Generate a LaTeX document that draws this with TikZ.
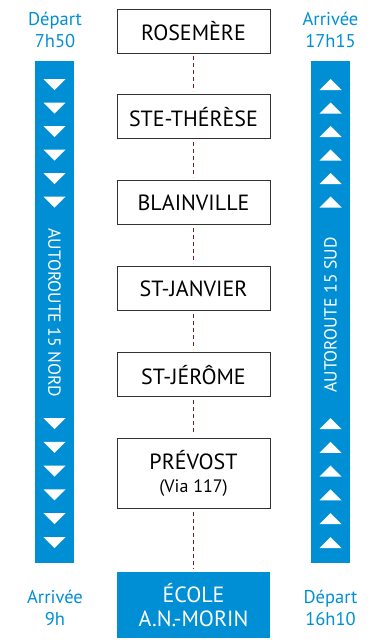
\documentclass[tikz,border=0pt]{standalone}
\usepackage{fontspec}
\setmainfont{PT Sans}
\usetikzlibrary{positioning}
\definecolor{autoblue}{RGB}{0,143,213}
\definecolor{dashred}{RGB}{125,28,32}

\begin{document}
\begin{tikzpicture}[x=1pt, y=1pt, node distance=41pt,
    station/.style={draw=black!80, line width=0.9pt, minimum width=153pt, minimum height=44pt,
      inner sep=0pt, align=center, font=\fontsize{22}{23}\selectfont},
    ecole/.style={fill=autoblue, text=white, minimum width=153pt, minimum height=66pt,
      inner sep=0pt, align=center, font=\fontsize{22}{24}\selectfont},
    timelabel/.style={text=autoblue, align=center, font=\fontsize{18.5}{22.7}\selectfont},
    roadlabel/.style={text=white, font=\fontsize{17.5}{17.5}\selectfont},
    route/.style={dashred, line width=0.9pt, dash pattern=on 4pt off 3pt, shorten >=3pt, shorten <=3pt}]
  \useasboundingbox (0,0) rectangle (382,-640);

  \node [station] (rosemere) at (193.5,-31) {ROSEMÈRE};
  \node [station, below=of rosemere] (therese) {STE-THÉRÈSE};
  \node [station, below=of therese] (blainville) {BLAINVILLE};
  \node [station, below=of blainville] (janvier) {ST-JANVIER};
  \node [station, below=of janvier] (jerome) {ST-JÉRÔME};
  \node [station, minimum height=70pt, below=of jerome] (prevost) {PRÉVOST\\{\fontsize{18}{18}\selectfont (Via 117)}};
  \node [ecole, below=63pt of prevost] (ecole) {ÉCOLE\\A.N.-MORIN};

  \foreach \a/\b in {rosemere/therese, therese/blainville, blainville/janvier, janvier/jerome, jerome/prevost, prevost/ecole}
    \draw [route] (\a) -- (\b);

  \fill [autoblue] (35,-61) rectangle (74,-563);
  \fill [autoblue] (311,-61) rectangle (350,-563);
  \node [roadlabel, rotate=-90] (nord) at (54.5,-313) {AUTOROUTE 15 NORD};
  \node [roadlabel, rotate=90] (sud) at (330.5,-315) {AUTOROUTE 15 SUD};

  \foreach \y in {79,102.5,126,149.5,173,196.5,418,441.8,465.6,489.4,513.2,537} {
    \fill [white] (43.5,-\y) -- (65.5,-\y) -- (54.5,-\y-11) -- cycle;
    \fill [white] (319.5,-\y-11) -- (341.5,-\y-11) -- (330.5,-\y) -- cycle;
  }

  \node [timelabel] (depart1) at (55,-30) {Départ\\7h50};
  \node [timelabel] (arrivee1) at (330.5,-30) {Arrivée\\17h15};
  \node [timelabel] (arrivee2) at (55,-608) {Arrivée\\9h};
  \node [timelabel] (depart2) at (330.5,-608) {Départ\\16h10};
\end{tikzpicture}
\end{document}
